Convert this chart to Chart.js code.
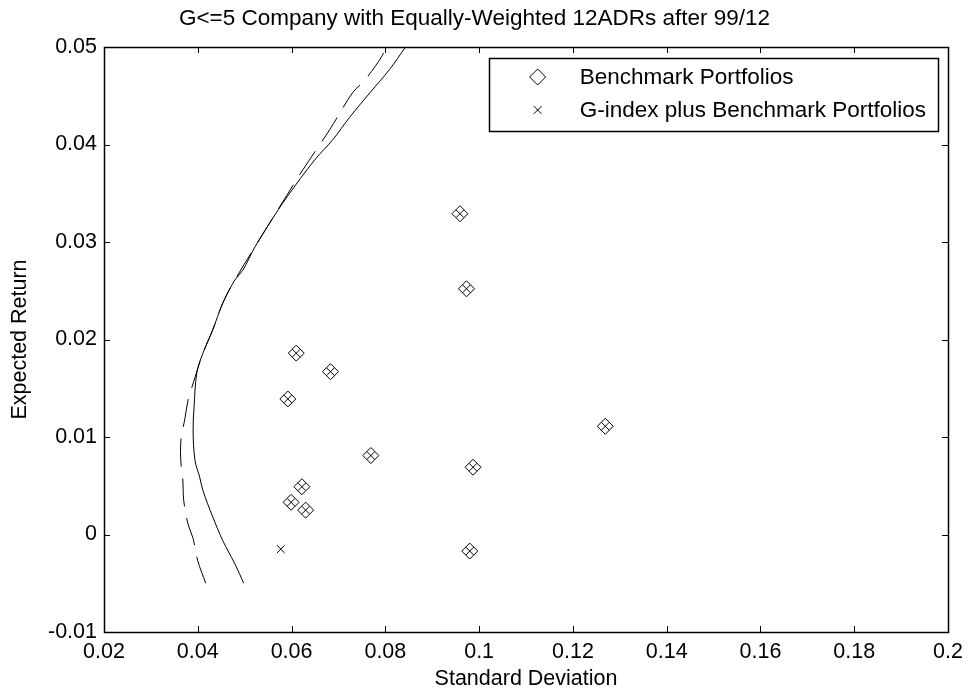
<!DOCTYPE html>
<html>
<head>
<meta charset="utf-8">
<title>G&lt;=5 Company with Equally-Weighted 12ADRs after 99/12</title>
<script src="https://cdn.jsdelivr.net/npm/chart.js@4/dist/chart.umd.min.js"></script>
<style>
  html, body { margin: 0; padding: 0; background: #fff; }
  #wrap { width: 970px; height: 695px; }
</style>
</head>
<body>
<div id="wrap"><canvas id="c" width="970" height="695"></canvas></div>
<script>
// Axis ticks
const xTicks = [0.02, 0.04, 0.06, 0.08, 0.10, 0.12, 0.14, 0.16, 0.18, 0.20];
const xTickLabels = ['0.02', '0.04', '0.06', '0.08', '0.1', '0.12', '0.14', '0.16', '0.18', '0.2'];
const yTicks = [-0.01, 0, 0.01, 0.02, 0.03, 0.04, 0.05];
const yTickLabels = ['-0.01', '0', '0.01', '0.02', '0.03', '0.04', '0.05'];

// Benchmark portfolios (standard deviation, expected return)
const benchSD  = [0.0959, 0.0973, 0.0610, 0.0683, 0.0592, 0.0769, 0.1269, 0.0987, 0.0622, 0.0599, 0.0630, 0.0980];
const benchRet = [0.0329, 0.0252, 0.0186, 0.0167, 0.0139, 0.0081, 0.0111, 0.0069, 0.0049, 0.0033, 0.0025, -0.0017];

// G-index plus benchmark portfolios
const gPlusSD  = [0.0577, 0.0959, 0.0973, 0.0610, 0.0683, 0.0592, 0.0769, 0.1269, 0.0987, 0.0622, 0.0599, 0.0630, 0.0980];
const gPlusRet = [-0.0015, 0.0329, 0.0252, 0.0186, 0.0167, 0.0139, 0.0081, 0.0111, 0.0069, 0.0049, 0.0033, 0.0025, -0.0017];

// Efficient frontier, solid line
const solidSD  = [0.0498, 0.0479, 0.0453, 0.0432, 0.0411, 0.0404, 0.0394, 0.0390, 0.0392, 0.0398, 0.0411, 0.0432,
                  0.0453, 0.0479, 0.0496, 0.0522, 0.0554, 0.0590, 0.0649, 0.0688, 0.0724, 0.0767, 0.0809, 0.0843];
const solidRet = [-0.0050, -0.0030, -0.0006, 0.0018, 0.0045, 0.0059, 0.0076, 0.0107, 0.0130, 0.0166, 0.0186, 0.0210,
                  0.0237, 0.0261, 0.0271, 0.0295, 0.0320, 0.0346, 0.0384, 0.0405, 0.0428, 0.0453, 0.0477, 0.0500];

// Efficient frontier, dashed line
const dashedSD  = [0.0417, 0.0400, 0.0390, 0.0379, 0.0370, 0.0368, 0.0364, 0.0364, 0.0373, 0.0379, 0.0394, 0.0411,
                   0.0432, 0.0453, 0.0479, 0.0522, 0.0590, 0.0624, 0.0681, 0.0730, 0.0756, 0.0792, 0.0801];
const dashedRet = [-0.0050, -0.0027, -0.0004, 0.0011, 0.0035, 0.0057, 0.0074, 0.0096, 0.0120, 0.0137, 0.0161, 0.0186,
                   0.0210, 0.0237, 0.0261, 0.0295, 0.0348, 0.0374, 0.0415, 0.0453, 0.0466, 0.0490, 0.0500];

const FONT = '"Liberation Sans", Arial, Helvetica, sans-serif';
const toPoints = (xs, ys) => xs.map((x, i) => ({ x: x, y: ys[i] }));

// Box frame with inward tick marks on all four sides
const framePlugin = {
  id: 'frame',
  afterDraw(chart) {
    const { ctx, chartArea: a, scales } = chart;
    const len = 6;
    ctx.save();
    ctx.strokeStyle = '#000';
    ctx.lineWidth = 1;
    ctx.beginPath();
    scales.x.ticks.forEach(t => {
      const px = Math.round(scales.x.getPixelForValue(t.value)) + 0.5;
      ctx.moveTo(px, a.bottom); ctx.lineTo(px, a.bottom - len);
      ctx.moveTo(px, a.top); ctx.lineTo(px, a.top + len);
    });
    scales.y.ticks.forEach(t => {
      const py = Math.round(scales.y.getPixelForValue(t.value)) + 0.5;
      ctx.moveTo(a.left, py); ctx.lineTo(a.left + len, py);
      ctx.moveTo(a.right, py); ctx.lineTo(a.right - len, py);
    });
    ctx.stroke();
    ctx.lineWidth = 1.5;
    ctx.strokeRect(Math.round(a.left) + 0.5, Math.round(a.top) + 0.5,
                   Math.round(a.right - a.left), Math.round(a.bottom - a.top));
    ctx.restore();
  }
};

// Legend box placed inside the upper-right corner of the plot
const insideLegendPlugin = {
  id: 'insideLegend',
  afterDraw(chart) {
    const { ctx, chartArea: a } = chart;
    const items = chart.data.datasets.filter(d => d.inLegend);
    ctx.save();
    ctx.font = '22.5px ' + FONT;
    const textW = Math.max(...items.map(d => ctx.measureText(d.label).width));
    const h = 73;
    const w = 91 + textW + 12;
    const right = a.right - 10;
    const left = right - w;
    const top = a.top + 11;
    ctx.fillStyle = '#fff';
    ctx.fillRect(left, top, w, h);
    ctx.strokeStyle = '#000';
    ctx.lineWidth = 1.5;
    ctx.strokeRect(Math.round(left) + 0.5, Math.round(top) + 0.5, Math.round(w), h);
    items.forEach((d, i) => {
      const cy = top + 19 + i * 33;
      ctx.strokeStyle = '#000';
      ctx.lineWidth = 1;
      Chart.helpers.drawPoint(ctx, {
        pointStyle: d.pointStyle,
        radius: d.pointRadius,
        borderWidth: 1,
        rotation: 0
      }, left + 49, cy);
      ctx.fillStyle = '#000';
      ctx.textBaseline = 'middle';
      ctx.textAlign = 'left';
      ctx.fillText(d.label, left + 91, cy + 1);
    });
    ctx.restore();
  }
};

new Chart(document.getElementById('c'), {
  type: 'scatter',
  data: {
    datasets: [
      {
        label: 'Frontier (solid)',
        data: toPoints(solidSD, solidRet),
        showLine: true,
        borderColor: '#000',
        borderWidth: 1,
        pointRadius: 0,
        tension: 0.35,
        fill: false,
        inLegend: false
      },
      {
        label: 'Frontier (dashed)',
        data: toPoints(dashedSD, dashedRet),
        showLine: true,
        borderColor: '#000',
        borderWidth: 1,
        borderDash: [28, 12],
        pointRadius: 0,
        tension: 0.35,
        fill: false,
        inLegend: false
      },
      {
        label: 'Benchmark Portfolios',
        data: toPoints(benchSD, benchRet),
        pointStyle: 'rectRot',
        pointRadius: 8,
        borderColor: '#000',
        backgroundColor: 'rgba(0,0,0,0)',
        borderWidth: 1,
        inLegend: true
      },
      {
        label: 'G-index plus Benchmark Portfolios',
        data: toPoints(gPlusSD, gPlusRet),
        pointStyle: 'crossRot',
        pointRadius: 5.5,
        borderColor: '#000',
        backgroundColor: 'rgba(0,0,0,0)',
        borderWidth: 1,
        inLegend: true
      }
    ]
  },
  options: {
    responsive: false,
    animation: false,
    events: [],
    layout: { padding: { left: 0, right: 21, top: 0, bottom: 0 } },
    plugins: {
      legend: { display: false },
      tooltip: { enabled: false },
      title: {
        display: true,
        text: 'G<=5 Company with Equally-Weighted 12ADRs after 99/12',
        color: '#000',
        font: { family: FONT, size: 22.5, weight: 'normal' },
        padding: { top: 5.5, bottom: 14.5 }
      }
    },
    scales: {
      x: {
        type: 'linear',
        min: 0.02,
        max: 0.2,
        afterBuildTicks(scale) { scale.ticks = xTicks.map(v => ({ value: v })); },
        afterFit(scale) { scale.height = 63; },
        ticks: {
          color: '#000',
          font: { family: FONT, size: 21.5 },
          padding: 7,
          maxRotation: 0,
          autoSkip: false,
          callback: (v) => { const i = xTicks.findIndex(t => Math.abs(t - v) < 1e-9); return i >= 0 ? xTickLabels[i] : ''; }
        },
        grid: { display: false, drawTicks: false },
        border: { display: false },
        title: {
          display: true,
          text: 'Standard Deviation',
          color: '#000',
          font: { family: FONT, size: 21.5 },
          padding: { top: 0, bottom: 3 }
        }
      },
      y: {
        type: 'linear',
        min: -0.01,
        max: 0.05,
        afterBuildTicks(scale) { scale.ticks = yTicks.map(v => ({ value: v })); },
        afterFit(scale) { scale.width = 104; },
        ticks: {
          color: '#000',
          font: { family: FONT, size: 21.5 },
          padding: 7,
          autoSkip: false,
          callback: (v) => { const i = yTicks.findIndex(t => Math.abs(t - v) < 1e-9); return i >= 0 ? yTickLabels[i] : ''; }
        },
        grid: { display: false, drawTicks: false },
        border: { display: false },
        title: {
          display: true,
          text: 'Expected Return',
          color: '#000',
          font: { family: FONT, size: 21.5 },
          padding: { top: 7, bottom: 0 }
        }
      }
    }
  },
  plugins: [framePlugin, insideLegendPlugin]
});
</script>
</body>
</html>
